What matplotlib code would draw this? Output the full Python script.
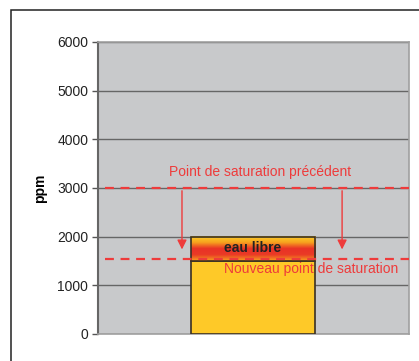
import numpy as np
import matplotlib.pyplot as plt
from matplotlib.colors import LinearSegmentedColormap
from matplotlib.patches import Rectangle

plt.rcParams['font.family'] = ['Liberation Sans', 'DejaVu Sans']

# valeurs (ppm)
yticks = [0, 1000, 2000, 3000, 4000, 5000, 6000]
eau_dissoute = 1500
eau_libre = 500
sat_ancien = 3000
sat_nouveau = 1550
fleche_fin = 1680

fig = plt.figure(figsize=(4.19, 3.61), dpi=100)
# cadre exterieur
fig.patches.append(Rectangle((11 / 419, -0.1), 1.2, 1 - 10 / 361 + 0.1, transform=fig.transFigure,
                             fill=False, edgecolor='#222222', linewidth=1.1))

ax = fig.add_axes([0.234, 0.0748, 0.742, 0.809])
ax.set_facecolor('#c8c9cb')
ax.set_xlim(0, 1)
ax.set_ylim(0, 6000)
ax.set_yticks(yticks)
ax.set_xticks([])
ax.tick_params(axis='y', length=4, width=1, color='#555555', labelsize=10, pad=3, labelcolor='#222222')
ax.yaxis.grid(True, color='#666666', linewidth=1)
ax.set_axisbelow(True)
for s in ['top', 'right', 'bottom']:
    ax.spines[s].set_color('#a0a0a0')
    ax.spines[s].set_linewidth(1.2)
ax.spines['left'].set_color('#666666')
ax.spines['left'].set_linewidth(1.5)
ax.set_ylabel('ppm', fontsize=10, fontweight='bold', labelpad=7)

x0, x1 = 0.299, 0.698
# eau dissoute
ax.bar((x0 + x1) / 2, eau_dissoute, width=x1 - x0, color='#fec928', edgecolor='#3a3024',
       linewidth=1.2, zorder=3)
# eau libre, degrade orange / rouge
cmap = LinearSegmentedColormap.from_list('eau', ['#f7a21e', '#ea3a26', '#e93226', '#f7a21e', '#fdd02a'])
grad = np.linspace(0, 1, 100).reshape(-1, 1)
ax.imshow(grad, cmap=cmap, aspect='auto', extent=(x0, x1, eau_dissoute + eau_libre, eau_dissoute),
          zorder=3, interpolation='bilinear')
ax.add_patch(Rectangle((x0, eau_dissoute), x1 - x0, eau_libre, fill=False, edgecolor='#3a3024',
                       linewidth=1.2, zorder=4))
ax.set_xlim(0, 1)
ax.set_ylim(0, 6000)
ax.text((x0 + x1) / 2, 1760, 'eau libre', ha='center', va='center', fontsize=10, fontweight='bold',
        color='#222222', zorder=5)

rouge = '#ee3b3b'
for yv in [sat_ancien, sat_nouveau]:
    ax.plot([0.0225, 1], [yv, yv], color=rouge, linewidth=1.6, dashes=(4, 3), zorder=6)
for xa in [0.27, 0.785]:
    ax.annotate('', xy=(xa, fleche_fin), xytext=(xa, sat_ancien),
                arrowprops=dict(arrowstyle='-|>', color=rouge, lw=1, mutation_scale=14), zorder=6)
ax.text(0.52, 3330, 'Point de saturation précédent', ha='center', va='center', fontsize=10,
        color=rouge, zorder=6)
ax.text(0.405, 1330, 'Nouveau point de saturation', ha='left', va='center', fontsize=10,
        color=rouge, zorder=6)

fig.savefig('out.png', dpi=100)
